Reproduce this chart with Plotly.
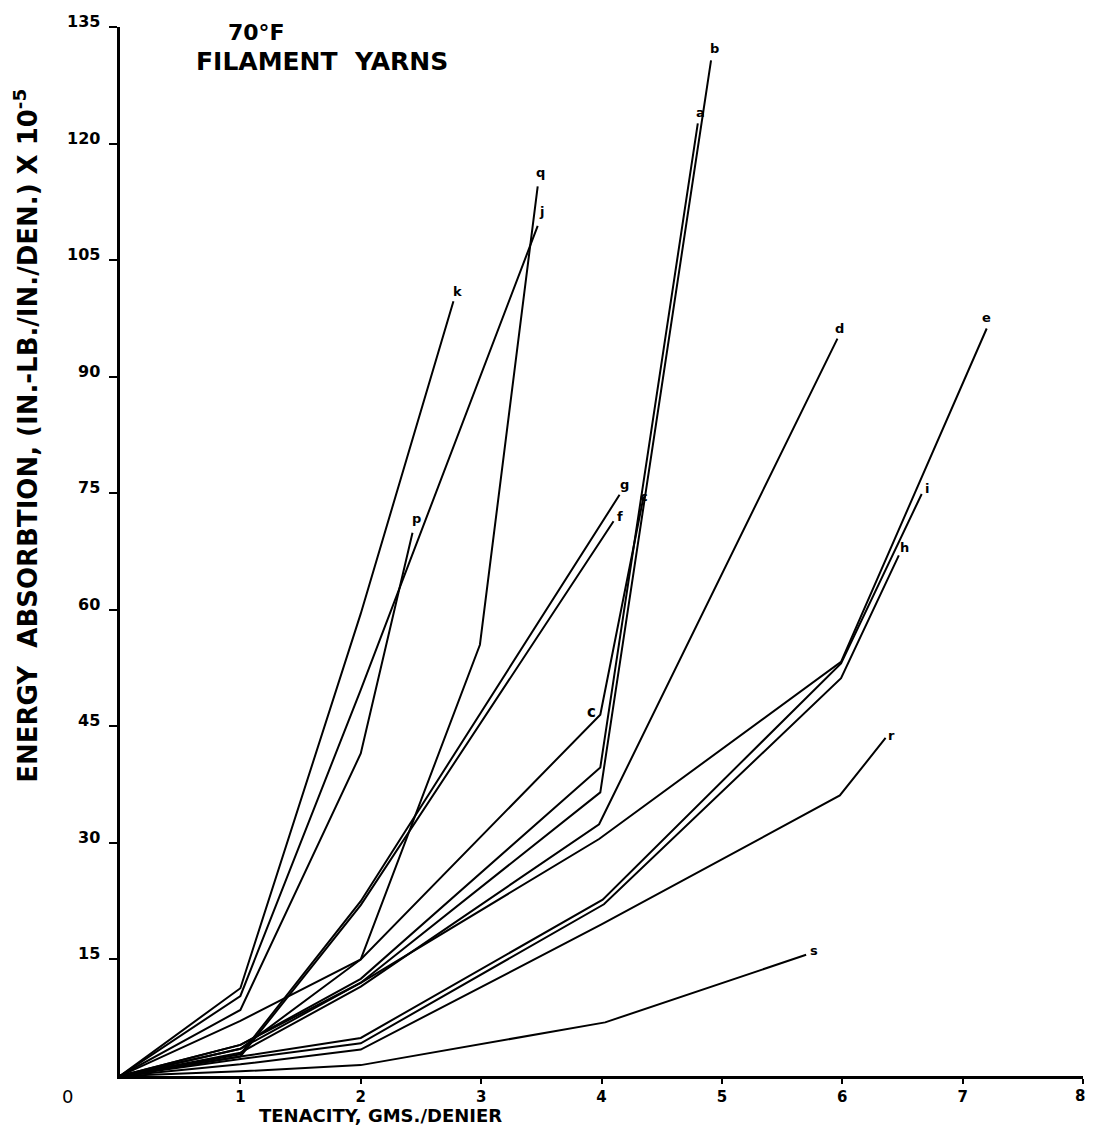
import plotly.graph_objects as go

# Tenacity (gms/denier) break points and energy absorption (x10^-5) for each yarn
names = ["a", "b", "c", "d", "e", "f", "g", "h", "i", "j", "k", "p", "q", "r", "s"]
tenacity = {
    "a": [0, 1, 2, 3.99, 4.80],
    "b": [0, 1, 2, 3.99, 4.91],
    "c": [0, 1, 2, 3.99, 4.35],
    "d": [0, 1, 2, 3.98, 5.96],
    "e": [0, 1, 2, 3.98, 5.99, 7.20],
    "f": [0, 1, 2, 4.10],
    "g": [0, 1, 2, 4.15],
    "h": [0, 1, 2, 4.02, 5.99, 6.47],
    "i": [0, 1, 2, 4.01, 5.99, 6.66],
    "j": [0, 1, 2, 3.47],
    "k": [0, 1, 2, 2.77],
    "p": [0, 1, 2, 2.43],
    "q": [0, 1, 2, 2.99, 3.47],
    "r": [0, 1, 2, 4.0, 5.98, 6.36],
    "s": [0, 1, 2, 4.03, 5.70],
}
energy = {
    "a": [0, 4.0, 12.5, 39.7, 122.6],
    "b": [0, 3.5, 12.0, 36.5, 130.7],
    "c": [0, 7.1, 15.0, 46.5, 74.6],
    "d": [0, 3.0, 11.5, 32.4, 94.9],
    "e": [0, 4.0, 12.0, 30.5, 53.3, 96.2],
    "f": [0, 2.5, 22.0, 71.4],
    "g": [0, 2.8, 22.5, 74.8],
    "h": [0, 2.2, 4.2, 22.1, 51.2, 67.0],
    "i": [0, 2.5, 4.9, 22.7, 53.1, 74.9],
    "j": [0, 10.3, 49.7, 109.4],
    "k": [0, 11.3, 59.5, 99.7],
    "p": [0, 8.5, 41.5, 69.9],
    "q": [0, 3.5, 15.0, 55.5, 114.5],
    "r": [0, 1.5, 3.4, 19.5, 36.1, 43.5],
    "s": [0, 0.6, 1.4, 6.9, 15.6],
}
y_ticks = [15, 30, 45, 60, 75, 90, 105, 120, 135]
x_ticks = [1, 2, 3, 4, 5, 6, 7, 8]

# label pixel offsets from the end of each curve (style only)
label_shift = {
    "a": (3, 11), "b": (3, 12), "d": (2, 10), "e": (0, 11), "f": (6, 5),
    "g": (5, 10), "h": (6, 8), "i": (5, 6), "j": (4, 14), "k": (4, 10),
    "p": (4, 14), "q": (3, 14), "r": (6, 2), "s": (8, 4), "c": (0, 0),
}

FONT = "DejaVu Sans"
BLACK = "black"
TICKFONT = dict(family=FONT, size=15, color=BLACK, weight="bold")
fig = go.Figure()
for n in names:
    fig.add_trace(go.Scatter(x=tenacity[n], y=energy[n], mode="lines",
                             line=dict(color=BLACK, width=2),
                             showlegend=False, hoverinfo="skip"))

ann = []
for n in names:
    dx, dy = label_shift[n]
    ann.append(dict(x=tenacity[n][-1], y=energy[n][-1], text=n, showarrow=False,
                    xshift=dx, yshift=dy, xref="x", yref="y",
                    font=dict(family=FONT, size=13, color=BLACK, weight="bold")))
# label of curve c at its knee
ann.append(dict(x=tenacity["c"][3], y=energy["c"][3], text="c", showarrow=False,
                xshift=-9, yshift=3, xref="x", yref="y",
                font=dict(family=FONT, size=15, color=BLACK, weight="bold")))
# y tick labels sitting on their ticks
for t in y_ticks:
    ann.append(dict(x=0, y=t, xref="paper", yref="y", text=str(t), showarrow=False,
                    xanchor="right", yanchor="bottom", xshift=-18, yshift=-6,
                    font=dict(family=FONT, size=16, color=BLACK, weight="bold")))
# last x tick label (kept inside the page edge)
ann.append(dict(x=x_ticks[-1], y=0, xref="x", yref="paper", text=str(x_ticks[-1]),
                showarrow=False, xanchor="right", yanchor="middle",
                xshift=4, yshift=-20, font=TICKFONT))
# shared origin label
ann.append(dict(x=-0.054, y=-0.02, xref="paper", yref="paper", text="0",
                showarrow=False, xanchor="center", yanchor="middle",
                font=dict(family=FONT, size=18, color=BLACK)))
# chart heading
ann.append(dict(x=0.142, y=0.995, xref="paper", yref="paper", text="70°F",
                showarrow=False, xanchor="center", yanchor="middle",
                font=dict(family=FONT, size=22, color=BLACK, weight="bold")))
ann.append(dict(x=0.21, y=0.967, xref="paper", yref="paper", text="FILAMENT  YARNS",
                showarrow=False, xanchor="center", yanchor="middle",
                font=dict(family=FONT, size=25, color=BLACK, weight="bold")))
# axis titles
ann.append(dict(x=0.27, y=-0.0375, xref="paper", yref="paper",
                text="TENACITY, GMS./DENIER", showarrow=False,
                xanchor="center", yanchor="middle",
                font=dict(family=FONT, size=18, color=BLACK, weight="bold")))
ann.append(dict(x=-0.097, y=0.61, xref="paper", yref="paper", textangle=-90,
                text="ENERGY  ABSORBTION, (IN.-LB./IN./DEN.) X 10<sup>-5</sup>",
                showarrow=False, xanchor="center", yanchor="middle",
                font=dict(family=FONT, size=26, color=BLACK, weight="bold")))

# the page body adds an 8 px margin on every side, so the figure is kept
# small enough to fit the window without scrolling
fig.update_layout(
    width=1080, height=1117,
    margin=dict(l=112, r=5, t=19, b=49, autoexpand=False),
    paper_bgcolor="white", plot_bgcolor="white",
    annotations=ann,
    xaxis=dict(range=[0, 8], tickvals=x_ticks,
               ticktext=[str(v) for v in x_ticks[:-1]] + [""],
               showgrid=False, zeroline=False, showline=True, linecolor=BLACK,
               linewidth=3, ticks="outside", ticklen=5, tickwidth=2, tickcolor=BLACK,
               automargin=False, tickfont=TICKFONT),
    yaxis=dict(range=[0, 135], tickvals=y_ticks, showticklabels=False,
               showgrid=False, zeroline=False, showline=True, linecolor=BLACK,
               linewidth=3, ticks="outside", ticklen=8, tickwidth=2, tickcolor=BLACK,
               automargin=False),
)
fig.write_html("out.html")
